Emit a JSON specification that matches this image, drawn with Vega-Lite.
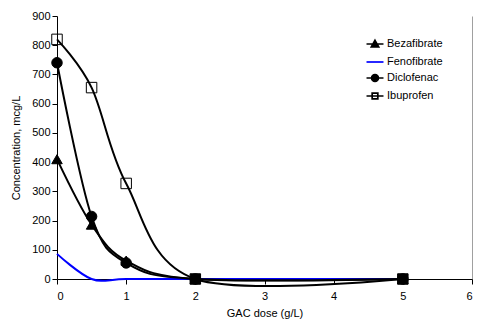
{
  "$schema": "https://vega.github.io/schema/vega-lite/v6.json",
  "width": 415,
  "height": 263,
  "autosize": {"type": "none"},
  "padding": {"left": 57, "top": 16, "right": 5, "bottom": 42},
  "background": "white",
  "config": {
    "view": {"stroke": null},
    "font": "Liberation Sans",
    "axis": {
      "labelFont": "Liberation Sans",
      "titleFont": "Liberation Sans",
      "labelFontSize": 11,
      "titleFontSize": 11,
      "titleFontWeight": "normal",
      "labelColor": "black",
      "titleColor": "black",
      "domainColor": "black",
      "tickColor": "black",
      "tickSize": 5,
      "domainWidth": 1,
      "tickWidth": 1
    }
  },
  "data": {
    "values": [
      {"drug": "Bezafibrate", "dose": 0, "conc": 410},
      {"drug": "Bezafibrate", "dose": 0.5, "conc": 186},
      {"drug": "Bezafibrate", "dose": 1, "conc": 63},
      {"drug": "Bezafibrate", "dose": 2, "conc": 0},
      {"drug": "Bezafibrate", "dose": 5, "conc": 0},
      {"drug": "Fenofibrate", "dose": 0, "conc": 86},
      {"drug": "Fenofibrate", "dose": 0.5, "conc": 0},
      {"drug": "Fenofibrate", "dose": 1, "conc": 0},
      {"drug": "Fenofibrate", "dose": 2, "conc": 0},
      {"drug": "Fenofibrate", "dose": 5, "conc": 0},
      {"drug": "Diclofenac", "dose": 0, "conc": 740},
      {"drug": "Diclofenac", "dose": 0.5, "conc": 214},
      {"drug": "Diclofenac", "dose": 1, "conc": 55},
      {"drug": "Diclofenac", "dose": 2, "conc": 0},
      {"drug": "Diclofenac", "dose": 5, "conc": 0},
      {"drug": "Ibuprofen", "dose": 0, "conc": 820},
      {"drug": "Ibuprofen", "dose": 0.5, "conc": 655},
      {"drug": "Ibuprofen", "dose": 1, "conc": 327},
      {"drug": "Ibuprofen", "dose": 2, "conc": 0},
      {"drug": "Ibuprofen", "dose": 5, "conc": 0}
    ]
  },
  "encoding": {
    "x": {
      "field": "dose", "type": "quantitative",
      "scale": {"domain": [0, 6], "nice": false, "zero": true},
      "axis": {
        "title": "GAC dose (g/L)",
        "values": [0, 1, 2, 3, 4, 5, 6],
        "format": "d",
        "labelPadding": 6,
        "titlePadding": 6,
        "grid": true,
        "gridColor": {"condition": {"test": "datum.value === 6", "value": "#a0a0a0"}, "value": "transparent"},
        "gridWidth": 1
      }
    },
    "y": {
      "field": "conc", "type": "quantitative",
      "scale": {"domain": [0, 900], "nice": false},
      "axis": {
        "title": "Concentration, mcg/L",
        "values": [0, 100, 200, 300, 400, 500, 600, 700, 800, 900],
        "labelPadding": 2,
        "titlePadding": 10,
        "grid": false
      }
    }
  },
  "layer": [
    {
      "mark": {"type": "line", "interpolate": "cardinal", "strokeWidth": 2},
      "encoding": {
        "detail": {"field": "drug"},
        "color": {
          "field": "drug", "type": "nominal",
          "scale": {"domain": ["Bezafibrate", "Fenofibrate", "Diclofenac", "Ibuprofen"], "range": ["black", "#0000ff", "black", "black"]},
          "legend": {
            "title": null,
            "orient": "none",
            "legendX": 311,
            "legendY": 21,
            "labelFont": "Liberation Sans",
            "labelFontSize": 11,
            "labelColor": "black",
            "symbolSize": 128,
            "symbolStrokeWidth": 2,
            "rowPadding": 4,
            "labelOffset": 5,
            "encode": {
              "symbols": {
                "update": {
                  "shape": {"signal": "datum.value === 'Bezafibrate' ? 'M-1.5,0H1.5M0,-0.65L0.65,0.5H-0.65Z' : datum.value === 'Fenofibrate' ? 'M-1.5,0H1.5' : datum.value === 'Diclofenac' ? 'M-1.5,0H1.5M0.6,0A0.6,0.6,0,1,1,-0.6,0A0.6,0.6,0,1,1,0.6,0Z' : 'M-1.5,0H1.5M-0.5,-0.5H0.5V0.5H-0.5Z'"},
                  "fill": {"signal": "datum.value === 'Bezafibrate' || datum.value === 'Diclofenac' ? 'black' : 'transparent'"},
                  "stroke": {"signal": "datum.value === 'Fenofibrate' ? '#0000ff' : 'black'"},
                  "strokeWidth": {"value": 1.7},
                  "opacity": {"value": 1}
                }
              }
            }
          }
        }
      }
    },
    {
      "transform": [{"filter": "datum.drug !== 'Fenofibrate'"}],
      "mark": {"type": "point", "size": 110, "strokeWidth": 1, "opacity": 1, "stroke": "black"},
      "encoding": {
        "shape": {
          "field": "drug", "type": "nominal",
          "scale": {"domain": ["Bezafibrate", "Diclofenac", "Ibuprofen"], "range": ["triangle-up", "circle", "square"]},
          "legend": null
        },
        "fill": {
          "condition": {"test": "datum.conc <= 0", "value": "black"},
          "field": "drug", "type": "nominal",
          "scale": {"domain": ["Bezafibrate", "Diclofenac", "Ibuprofen"], "range": ["black", "black", "transparent"]},
          "legend": null
        }
      }
    }
  ]
}
